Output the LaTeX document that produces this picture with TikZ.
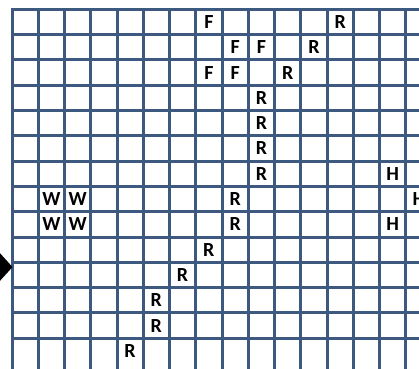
\documentclass[tikz,border=0pt]{standalone}
\usepackage{fontspec}
\setmainfont{Carlito}
\usepackage{tikz}
\definecolor{gridblue}{RGB}{62,89,128}

\begin{document}
\begin{tikzpicture}[
        x=1pt, y=-1pt,
        gridline/.style={draw=gridblue, line width=3pt, line cap=rect},
        letter/.style={font=\fontsize{20}{20}\selectfont\bfseries, inner sep=0pt, text depth=0pt}
    ]
        \useasboundingbox (0,0) rectangle (419,368);
        \clip (0,0) rectangle (419,368);
        \fill[white] (0,0) rectangle (419,368);

        % grid
        \foreach \i in {0,...,16}
            \draw[gridline] (12+26.25*\i,9.3) -- (12+26.25*\i,380);
        \foreach \j in {0,...,13}
            \draw[gridline] (12,9.3+25.3*\j) -- (430,9.3+25.3*\j);

        % letters in the cells
        \foreach \c/\r/\t in {7/0/F, 8/1/F, 9/1/F, 7/2/F, 8/2/F,
                12/0/R, 11/1/R, 10/2/R, 9/3/R, 9/4/R, 9/5/R, 9/6/R, 8/7/R, 8/8/R,
                7/9/R, 6/10/R, 5/11/R, 5/12/R, 4/13/R,
                14/6/H, 15/7/H, 14/8/H,
                1/7/W, 2/7/W, 1/8/W, 2/8/W}
            \node[letter] (\t-\c-\r) at (25.125+26.25*\c,21.95+25.3*\r) {\t};

        % pointer on the left
        \fill[black] (-2,251) -- (12.5,267) -- (-2,283) -- cycle;
    \end{tikzpicture}
\end{document}
